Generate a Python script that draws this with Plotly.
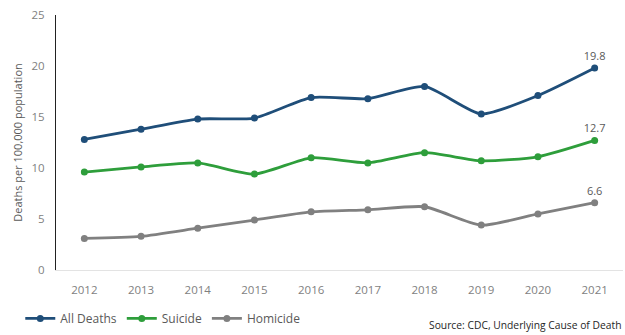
import plotly.graph_objects as go

years = ["2012", "2013", "2014", "2015", "2016", "2017", "2018", "2019", "2020", "2021"]
all_deaths = [12.8, 13.8, 14.8, 14.9, 16.9, 16.8, 18.0, 15.3, 17.1, 19.8]
suicide = [9.6, 10.1, 10.5, 9.4, 11.0, 10.5, 11.5, 10.7, 11.1, 12.7]
homicide = [3.1, 3.3, 4.1, 4.9, 5.7, 5.9, 6.2, 4.4, 5.5, 6.6]

series = [
    ("All Deaths", all_deaths, "#1F4E79"),
    ("Suicide", suicide, "#2E9E3B"),
    ("Homicide", homicide, "#808080"),
]

fig = go.Figure()
for name, vals, color in series:
    labels = [""] * (len(vals) - 1) + [f"{vals[-1]:.1f}"]
    fig.add_trace(go.Scatter(
        x=years, y=vals, name=name, mode="lines+markers+text",
        line=dict(color=color, width=2.8, shape="spline", smoothing=0.6),
        marker=dict(color=color, size=7, symbol="circle"),
        text=labels, textposition="top center",
        textfont=dict(color="#595959", size=11, family="Open Sans"),
        cliponaxis=False,
    ))

fig.update_layout(
    width=625, height=335,
    paper_bgcolor="white", plot_bgcolor="white",
    margin=dict(l=56, r=2, t=15, b=65),
    font=dict(family="Open Sans", color="#595959", size=11),
    showlegend=True,
    legend=dict(orientation="h", x=-0.063, xanchor="left", y=-0.19, yanchor="middle",
                font=dict(size=12, color="#595959"), itemwidth=30,
                traceorder="normal", tracegroupgap=0),
    xaxis=dict(showgrid=False, showline=True, linecolor="#E3E3E3", linewidth=1,
               range=[-0.5, 9.5],
               ticks="", tickfont=dict(size=11.5, color="#7F7F7F"), zeroline=False,
               ticklabelstandoff=9, automargin=False),
    yaxis=dict(range=[0, 25], dtick=5, showgrid=False, showline=True,
               linecolor="#222222", linewidth=1, ticks="", zeroline=False,
               tickfont=dict(size=11.5, color="#7F7F7F"), ticklabelstandoff=8,
               automargin=False,
               title=dict(text="Deaths per 100,000 population", standoff=6,
                          font=dict(size=11, color="#595959"))),
    annotations=[dict(text="Source: CDC, Underlying Cause of Death",
                      xref="paper", yref="paper", x=1.0, y=-0.215,
                      xanchor="right", yanchor="middle", showarrow=False,
                      font=dict(size=10.3, color="#262626"))],
)

fig.write_html("out.html", config={"displayModeBar": False},
               post_script="document.body.style.margin='0';")
